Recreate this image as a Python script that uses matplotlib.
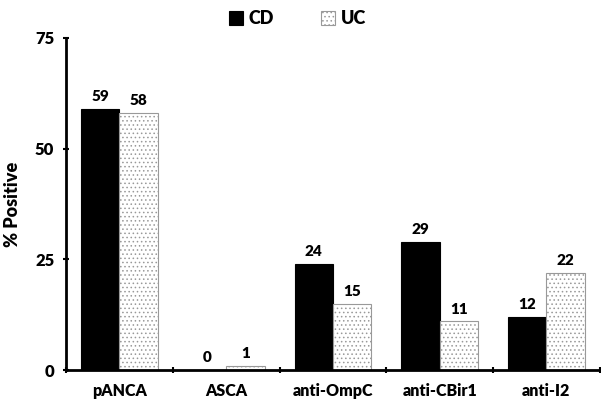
import matplotlib
matplotlib.use("Agg")
import matplotlib.pyplot as plt
import numpy as np

plt.rcParams["font.family"] = ["Lato", "DejaVu Sans"]
plt.rcParams["font.weight"] = "heavy"
plt.rcParams["axes.labelweight"] = "heavy"
plt.rcParams["hatch.linewidth"] = 0.6

categories = ["pANCA", "ASCA", "anti-OmpC", "anti-CBir1", "anti-I2"]
cd_values = [59, 0, 24, 29, 12]
uc_values = [58, 1, 15, 11, 22]
y_ticks = [0, 25, 50, 75]

fig = plt.figure(figsize=(6.01, 4.04), dpi=100)
ax = fig.add_axes([0.110, 0.084, 0.888, 0.822])

x = np.arange(len(categories))
w = 0.36
ax.bar(x - w / 2, cd_values, w, color="black", edgecolor="black", linewidth=0.8, label="CD")
ax.bar(x + w / 2, uc_values, w, color="white", edgecolor="#999999", hatch="....",
       linewidth=0.8, label="UC")

for xi, v in zip(x - w / 2, cd_values):
    ax.text(xi, v + 1.3, str(v), ha="center", va="bottom", fontsize=11)
for xi, v in zip(x + w / 2, uc_values):
    ax.text(xi, v + 1.3, str(v), ha="center", va="bottom", fontsize=11)

ax.set_xlim(-0.5, len(categories) - 0.5)
ax.set_ylim(0, 75)
ax.set_yticks(y_ticks)
ax.set_yticklabels([str(t) for t in y_ticks], fontsize=12)
ax.set_xticks(x)
ax.set_xticklabels(categories, fontsize=11.5)
ax.tick_params(axis="x", length=0, pad=9)
ax.set_xticks(np.arange(len(categories) + 1) - 0.5, minor=True)
ax.tick_params(axis="x", which="minor", length=5, width=1.5, direction="inout")
ax.tick_params(axis="y", length=5, width=1.5, direction="inout", pad=6)
ax.set_ylabel("% Positive", fontsize=13, labelpad=10)

for s in ["top", "right"]:
    ax.spines[s].set_visible(False)
for s in ["left", "bottom"]:
    ax.spines[s].set_linewidth(2)

leg = fig.legend(loc="upper center", bbox_to_anchor=(0.495, 1.015), ncol=2, frameon=False,
                 fontsize=13, handlelength=0.8, handleheight=0.8,
                 columnspacing=2.6, handletextpad=0.3)

fig.savefig("out.png", dpi=100)
